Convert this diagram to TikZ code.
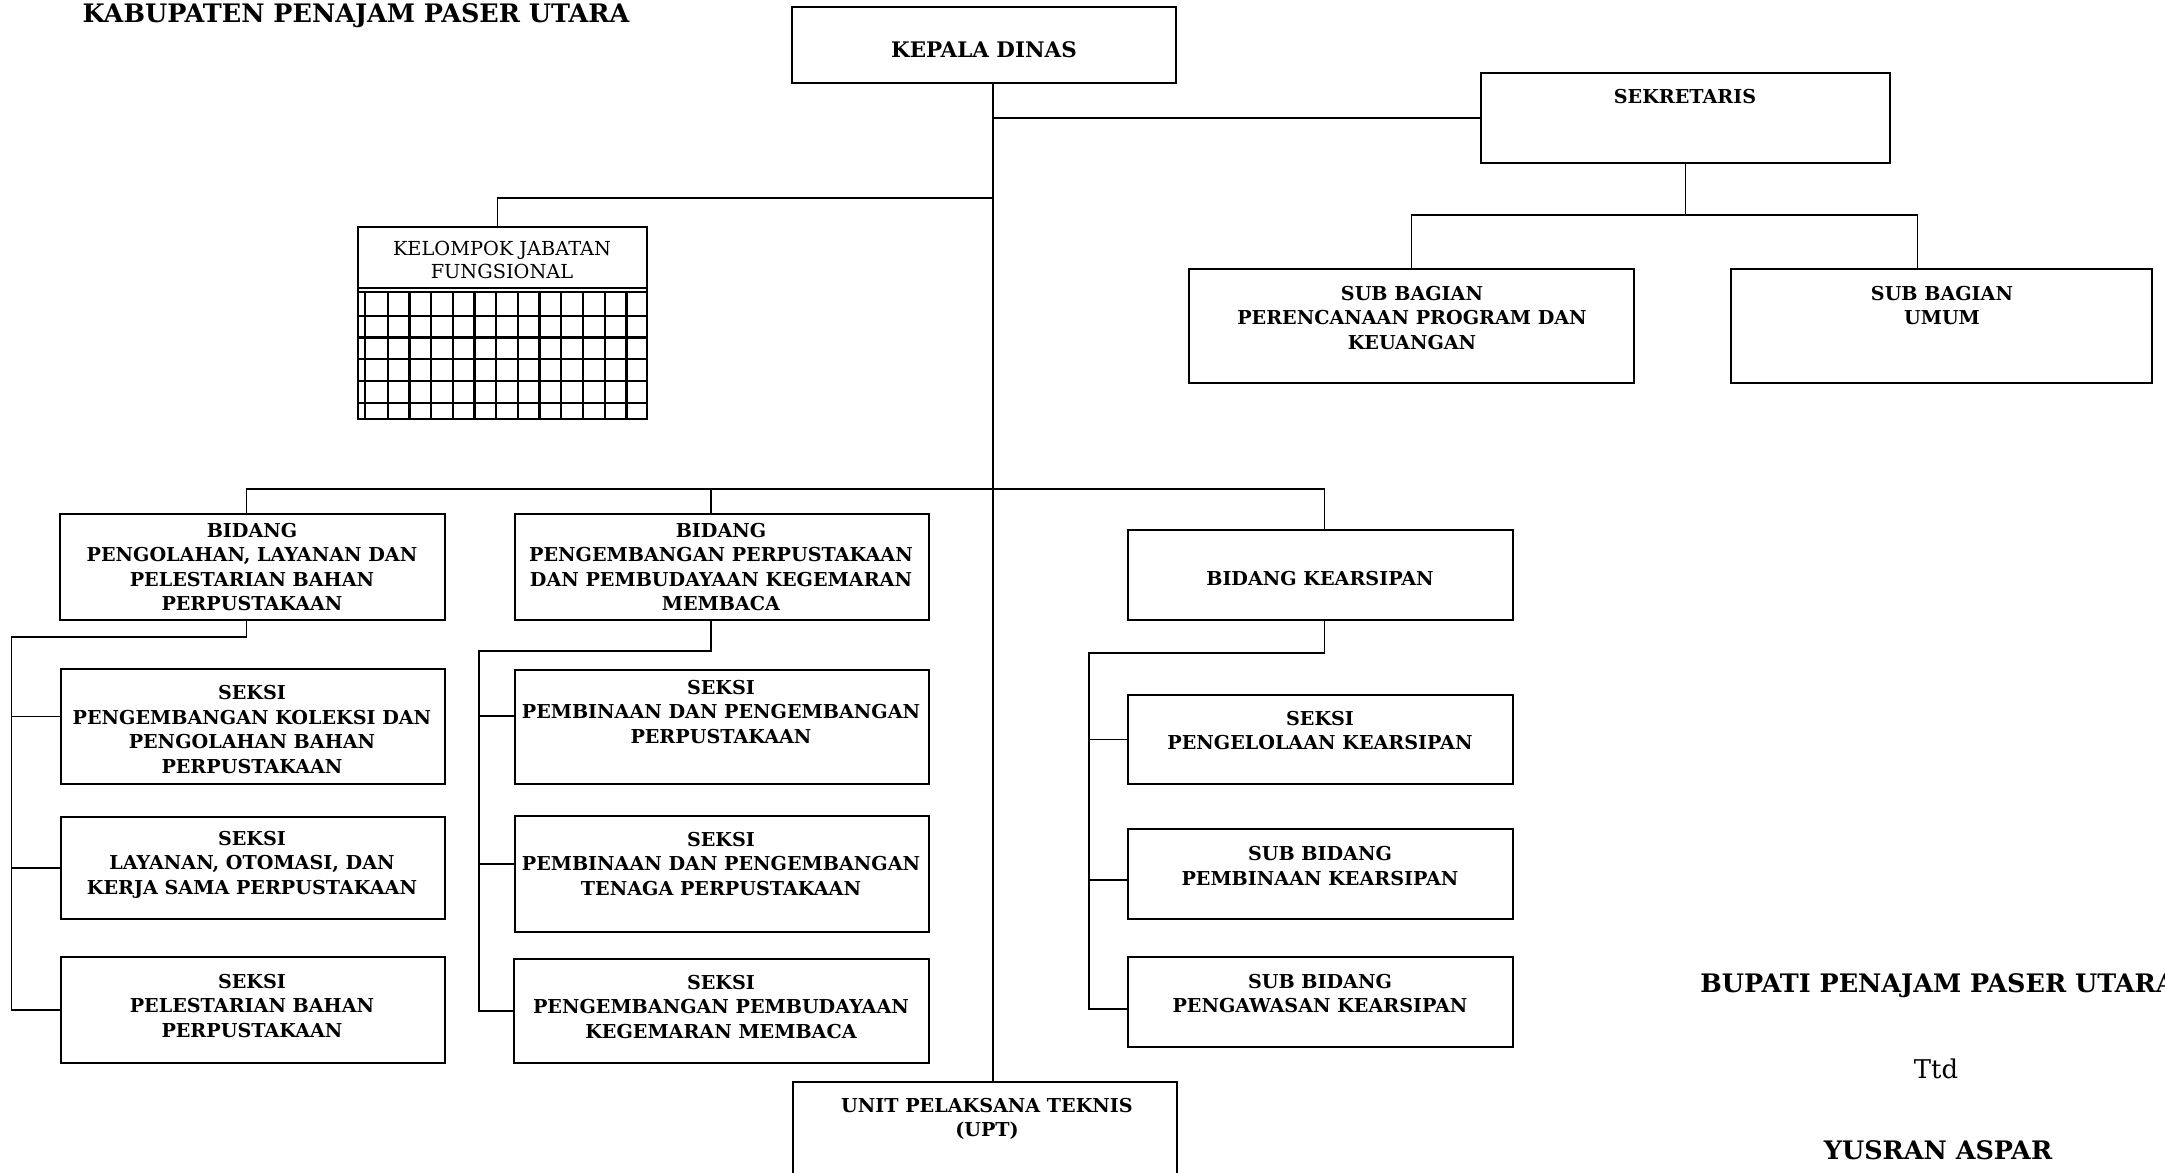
\documentclass[tikz,border=0pt]{standalone}
\usepackage{fontspec}
\setmainfont{DejaVu Serif}
\usetikzlibrary{fit,calc}

\begin{document}
\begin{tikzpicture}[x=0.02cm,y=-0.02cm,
    box/.style={draw,line width=1.1pt,inner sep=0pt},
    txt/.style={align=center,inner sep=0pt,font=\bfseries\fontsize{10.9}{13.9}\selectfont},
    big/.style={inner sep=0pt,font=\bfseries\fontsize{14.5}{17}\selectfont},
    con/.style={line width=0.9pt},
    gridline/.style={line width=1.3pt}]
    \useasboundingbox[fill=white] (0,0) rectangle (2165,1173);
    %kop
    \node[big,anchor=base] (kop) at (356,22) {KABUPATEN PENAJAM PASER UTARA};
    %kepala dinas
    \node[box,fit={(792,7) (1176,83)}] (kadis) {};
    \node[txt,font=\bfseries\fontsize{12.2}{14}\selectfont] (kadis-t) at (984,50) {KEPALA DINAS};
    %sekretaris
    \node[box,fit={(1481,73) (1890,163)}] (sek) {};
    \node[txt] (sek-t) at (1685,97) {SEKRETARIS};
    \node[box,fit={(1189,269) (1634,383)}] (sbp) {};
    \node[txt] (sbp-t) at (1412,318) {SUB BAGIAN\\PERENCANAAN PROGRAM DAN\\KEUANGAN};
    \node[box,fit={(1731,269) (2152,383)}] (sbu) {};
    \node[txt] (sbu-t) at (1942,305.5) {SUB BAGIAN\\UMUM};
    %kelompok jabatan fungsional
    \node[box,fit={(358,227) (647,419)}] (kel) {};
    \node[txt,font=\fontsize{11}{13.2}\selectfont] (kel-t) at (502,260) {KELOMPOK JABATAN\\FUNGSIONAL};
    \draw[gridline] (358,288) -- (647,288);
    \foreach \gy in {292,316,337.5,359,381,403}
    \draw[gridline] (358,\gy) -- (647,\gy);
    \foreach \gx in {365,387.7,409.4,...,627}
    \draw[gridline] (\gx,292) -- (\gx,419);
    %bidang
    \node[box,fit={(60,514) (445,620)}] (b1) {};
    \node[txt] (b1-t) at (252,567) {BIDANG\\PENGOLAHAN, LAYANAN DAN\\PELESTARIAN BAHAN\\PERPUSTAKAAN};
    \node[box,fit={(515,514) (929,620)}] (b2) {};
    \node[txt] (b2-t) at (721,567) {BIDANG\\PENGEMBANGAN PERPUSTAKAAN\\DAN PEMBUDAYAAN KEGEMARAN\\MEMBACA};
    \node[box,fit={(1128,530) (1513,620)}] (b3) {};
    \node[txt] (b3-t) at (1320,579) {BIDANG KEARSIPAN};
    %seksi bidang pengolahan
    \node[box,fit={(61,669) (445,784)}] (s11) {};
    \node[txt] (s11-t) at (252,729.5) {SEKSI\\PENGEMBANGAN KOLEKSI DAN\\PENGOLAHAN BAHAN\\PERPUSTAKAAN};
    \node[box,fit={(61,817) (445,919)}] (s12) {};
    \node[txt] (s12-t) at (252,864.5) {SEKSI\\LAYANAN, OTOMASI, DAN\\KERJA SAMA PERPUSTAKAAN};
    \node[box,fit={(61,957) (445,1063)}] (s13) {};
    \node[txt] (s13-t) at (252,1006) {SEKSI\\PELESTARIAN BAHAN\\PERPUSTAKAAN};
    %seksi bidang pengembangan
    \node[box,fit={(515,670) (929,784)}] (s21) {};
    \node[txt] (s21-t) at (721,712) {SEKSI\\PEMBINAAN DAN PENGEMBANGAN\\PERPUSTAKAAN};
    \node[box,fit={(515,816) (929,932)}] (s22) {};
    \node[txt] (s22-t) at (721,864) {SEKSI\\PEMBINAAN DAN PENGEMBANGAN\\TENAGA PERPUSTAKAAN};
    \node[box,fit={(514,959) (929,1063)}] (s23) {};
    \node[txt] (s23-t) at (721,1007) {SEKSI\\PENGEMBANGAN PEMBUDAYAAN\\KEGEMARAN MEMBACA};
    %seksi bidang kearsipan
    \node[box,fit={(1128,695) (1513,784)}] (s31) {};
    \node[txt] (s31-t) at (1320,730.5) {SEKSI\\PENGELOLAAN KEARSIPAN};
    \node[box,fit={(1128,829) (1513,919)}] (s32) {};
    \node[txt] (s32-t) at (1320,866) {SUB BIDANG\\PEMBINAAN KEARSIPAN};
    \node[box,fit={(1128,957) (1513,1047)}] (s33) {};
    \node[txt] (s33-t) at (1320,993.5) {SUB BIDANG\\PENGAWASAN KEARSIPAN};
    %upt
    \node[box,fit={(793,1082) (1177,1200)}] (upt) {};
    \node[txt] (upt-t) at (987,1119) {UNIT PELAKSANA TEKNIS\\(UPT)};
    %tanda tangan
    \node[big] (bup) at (1938,986) {BUPATI PENAJAM PASER UTARA};
    \node[inner sep=0pt,font=\fontsize{14.7}{17}\selectfont] (ttd) at (1936,1069) {Ttd};
    \node[big] (nama) at (1938,1150) {YUSRAN ASPAR};
    %garis
    \coordinate (trunk) at (993,0);
    \draw[con] (kadis.south -| trunk) -- (upt.north -| trunk);
    \draw[con] (trunk |- sek.west) -- (sek.west);
    \coordinate (j-kel) at (993,198);
    \draw[con] (j-kel) -| ($(kel.north)+(-5,0)$);
    \coordinate (j-sb) at (1685.5,215);
    \draw[con] (sek.south) -- (j-sb);
    \draw[con] (sbp.north) |- (j-sb) -| ($(sbu.north)+(-24,0)$);
    \coordinate (j-bid) at (993,489);
    \draw[con] ($(b1.north)+(-6,0)$) |- (j-bid) -| ($(b3.north)+(4,0)$);
    \draw[con] ($(b2.north)+(-11,0)$) -- ++(0,-25);
    \coordinate (r1) at (11.5,637);
    \draw[con] ($(b1.south)+(-6,0)$) |- (r1) |- (s13.west);
    \draw[con] ($(s11.west)+(0,-10)$) -| (r1);
    \draw[con] (s12.west) -| (r1);
    \coordinate (r2) at (479,651);
    \draw[con] ($(b2.south)+(-11,0)$) |- (r2) |- (s23.west);
    \draw[con] ($(s21.west)+(0,-11)$) -| (r2);
    \draw[con] ($(s22.west)+(0,-10)$) -| (r2);
    \coordinate (r3) at (1089,653);
    \draw[con] ($(b3.south)+(4,0)$) |- (r3) |- ($(s33.west)+(0,7)$);
    \draw[con] (s31.west) -| (r3);
    \draw[con] ($(s32.west)+(0,6)$) -| (r3);
\end{tikzpicture}
\end{document}
